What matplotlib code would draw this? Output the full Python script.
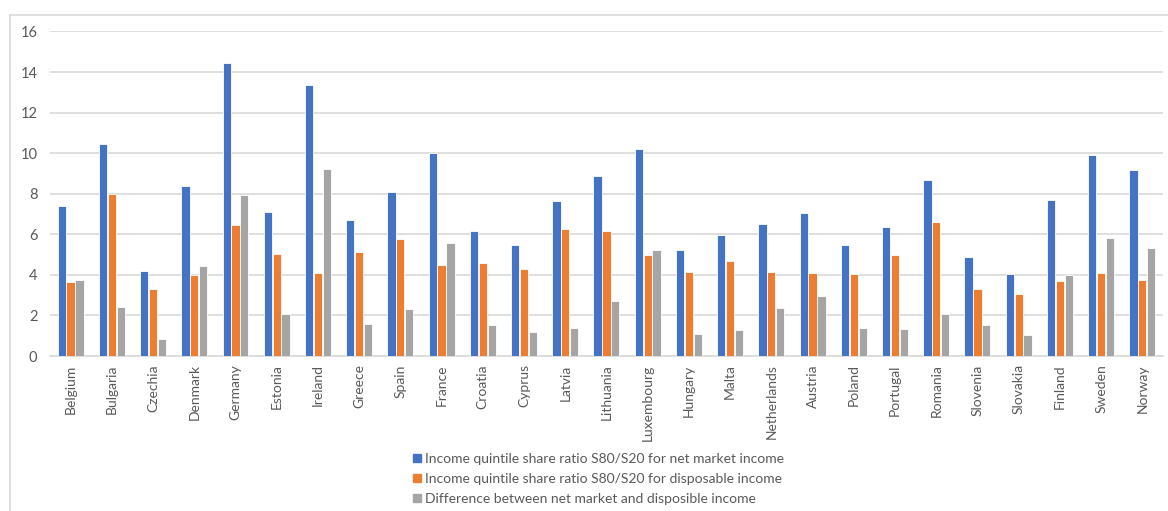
import matplotlib.pyplot as plt
from matplotlib.lines import Line2D
import numpy as np

plt.rcParams['font.family'] = ['Lato', 'DejaVu Sans']

countries = ["Belgium", "Bulgaria", "Czechia", "Denmark", "Germany", "Estonia", "Ireland",
             "Greece", "Spain", "France", "Croatia", "Cyprus", "Latvia", "Lithuania",
             "Luxembourg", "Hungary", "Malta", "Netherlands", "Austria", "Poland",
             "Portugal", "Romania", "Slovenia", "Slovakia", "Finland", "Sweden", "Norway"]

net_market = [7.41, 10.46, 4.19, 8.39, 14.45, 7.09, 13.37, 6.70, 8.11, 10.03, 6.14, 5.47,
              7.65, 8.88, 10.23, 5.22, 5.98, 6.49, 7.06, 5.47, 6.34, 8.69, 4.88, 4.04,
              7.70, 9.92, 9.16]
disposable = [3.63, 8.01, 3.30, 3.99, 6.45, 5.02, 4.10, 5.14, 5.78, 4.47, 4.58, 4.30,
              6.26, 6.14, 4.98, 4.14, 4.66, 4.14, 4.10, 4.06, 4.99, 6.62, 3.32, 3.04,
              3.71, 4.10, 3.74]
difference = [3.74, 2.43, 0.84, 4.42, 7.96, 2.05, 9.23, 1.58, 2.32, 5.58, 1.53, 1.18,
              1.38, 2.73, 5.22, 1.10, 1.30, 2.36, 2.97, 1.38, 1.33, 2.05, 1.54, 1.02,
              3.99, 5.83, 5.34]

labels = ["Income quintile share ratio S80/S20 for net market income",
          "Income quintile share ratio S80/S20 for disposable income",
          "Difference between net market and disposible income"]
colors = ["#4472C4", "#ED7D31", "#A5A5A5"]

fig = plt.figure(figsize=(11.68, 5.11), dpi=100)
ax = fig.add_axes([0.0428, 0.3033, 0.9529, 0.6351])

x = np.arange(len(countries))
w = 0.2
for i, (vals, c) in enumerate(zip([net_market, disposable, difference], colors)):
    ax.bar(x + (i - 1) * 0.215, vals, width=w, color=c, edgecolor="white", linewidth=0.6,
           zorder=3)

ax.set_xlim(-0.5, len(countries) - 0.5)
ax.set_ylim(0, 16)
ax.set_yticks(range(0, 17, 2))
ax.set_xticks(x)
ax.set_xticklabels(countries, rotation=90, fontsize=10, color="#595959")
ax.tick_params(axis="y", labelsize=10.5, labelcolor="#595959", length=0, pad=9)
ax.tick_params(axis="x", length=0, pad=6)
ax.grid(axis="y", color="#D9D9D9", linewidth=1.2, zorder=0)
for s in ["top", "right", "left"]:
    ax.spines[s].set_visible(False)
ax.spines["bottom"].set_color("#D9D9D9")
ax.spines["bottom"].set_linewidth(1.2)

handles = [Line2D([], [], marker="s", linestyle="none", markersize=6, color=c) for c in colors]
fig.legend(handles, labels, loc="upper left", bbox_to_anchor=(0.345, 0.127), frameon=False,
           fontsize=10, labelcolor="#595959", handletextpad=0.1, labelspacing=0.58,
           handlelength=1.0, borderpad=0)

# chart frame (left and top edges visible in the screenshot)
fig.add_artist(Line2D([0.0086, 0.0086], [0, 0.971], color="#D9D9D9", linewidth=1.2))
fig.add_artist(Line2D([0.0086, 1], [0.971, 0.971], color="#D9D9D9", linewidth=1.2))

fig.savefig("out.png", dpi=100)
